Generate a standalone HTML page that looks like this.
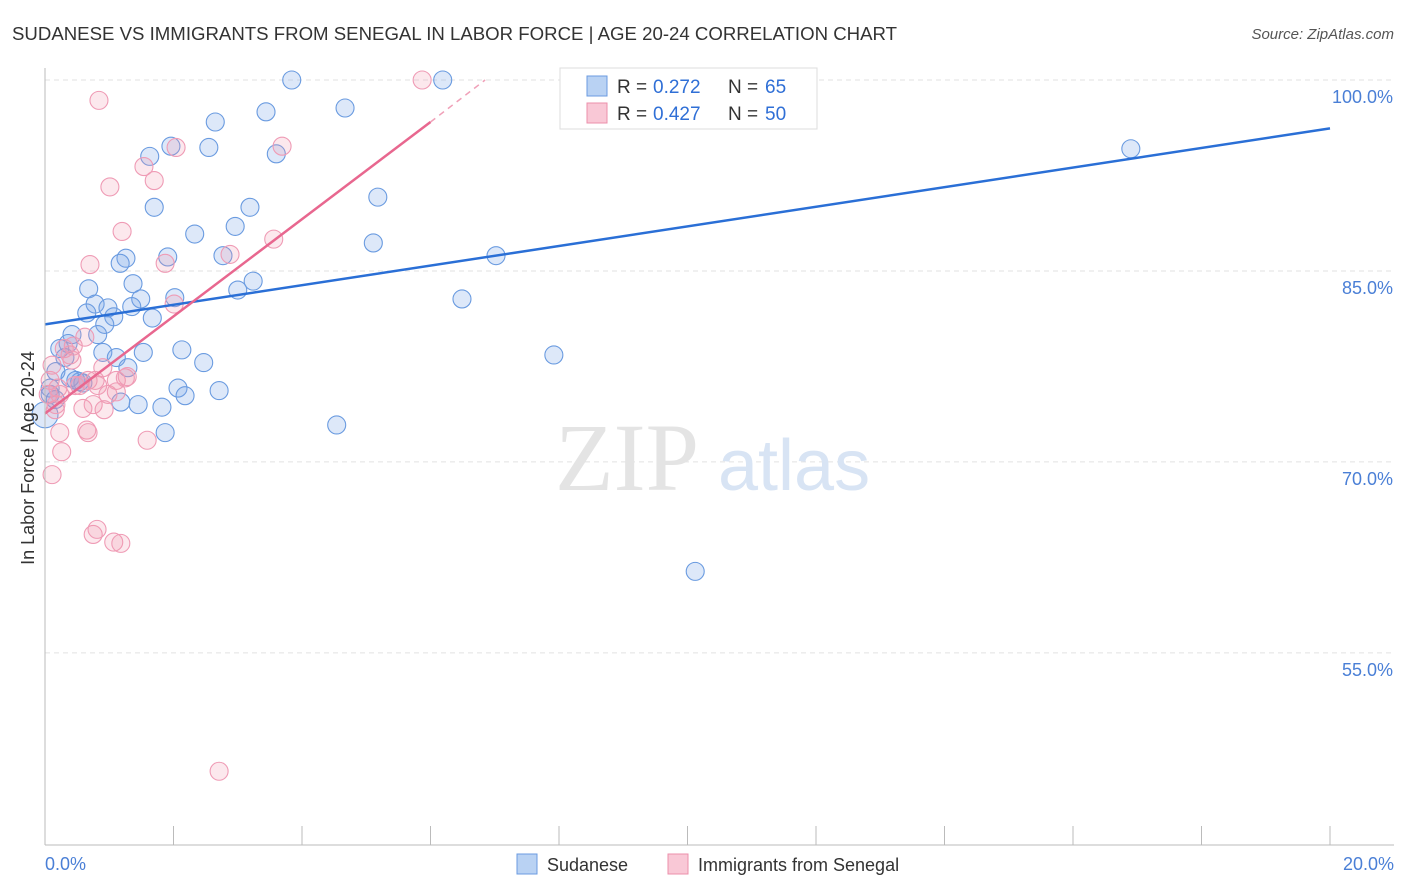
<!DOCTYPE html>
<html><head><meta charset="utf-8"><style>
body{margin:0;background:#fff;font-family:"Liberation Sans",sans-serif;}
svg{display:block}
</style></head><body>
<svg id="chart" width="1406" height="892">
<text x="12" y="40" font-size="18" fill="#333" textLength="885" lengthAdjust="spacingAndGlyphs">SUDANESE VS IMMIGRANTS FROM SENEGAL IN LABOR FORCE | AGE 20-24 CORRELATION CHART</text>
<text x="1394" y="39" font-size="15" fill="#555" font-style="italic" text-anchor="end">Source: ZipAtlas.com</text>
<g id="grid"></g>
<text x="555" y="490" font-size="96" font-family="Liberation Serif,serif" fill="#e4e4e4">ZIP</text>
<text x="718" y="490" font-size="72" fill="#d8e4f4">atlas</text>
<g id="marks"></g>
<line x1="45" y1="68" x2="45" y2="845" stroke="#bbb"/>
<line x1="45" y1="845" x2="1394" y2="845" stroke="#bbb"/>
<text x="34" y="458" font-size="18" fill="#333" text-anchor="middle" transform="rotate(-90 34 458)">In Labor Force | Age 20-24</text>
<text x="45" y="870" font-size="18" fill="#4a7fd6">0.0%</text>
<text x="1394" y="870" font-size="18" fill="#4a7fd6" text-anchor="end">20.0%</text>
<rect x="560" y="68" width="257" height="61" fill="#fff" stroke="#ddd"/>
<rect x="587" y="76" width="20" height="20" fill="#b9d2f3" stroke="#6b9be0"/>
<rect x="587" y="103" width="20" height="20" fill="#f9c8d6" stroke="#ec8fab"/>
<text x="617" y="93" font-size="19" fill="#333">R =</text>
<text x="653" y="93" font-size="19" fill="#2f6fd6">0.272</text>
<text x="728" y="93" font-size="19" fill="#333">N =</text>
<text x="765" y="93" font-size="19" fill="#2f6fd6">65</text>
<text x="617" y="120" font-size="19" fill="#333">R =</text>
<text x="653" y="120" font-size="19" fill="#2f6fd6">0.427</text>
<text x="728" y="120" font-size="19" fill="#333">N =</text>
<text x="765" y="120" font-size="19" fill="#2f6fd6">50</text>
<rect x="517" y="854" width="20" height="20" fill="#b9d2f3" stroke="#6b9be0"/>
<text x="547" y="871" font-size="18" fill="#333">Sudanese</text>
<rect x="668" y="854" width="20" height="20" fill="#f9c8d6" stroke="#ec8fab"/>
<text x="698" y="871" font-size="18" fill="#333">Immigrants from Senegal</text>
</svg>
<script>
const yTicks=[100,85,70,55];
const yTickLabels=["100.0%","85.0%","70.0%","55.0%"];
const xTicks=[0,2,4,6,8,10,12,14,16,18,20];
const sudX=[3.84,6.19,3.44,4.67,2.65,1.96,2.55,1.63,3.60,5.18,1.70,3.19,2.96,2.33,5.11,16.9,7.02,1.91,1.26,2.77,1.17,3.24,1.37,3.00,0.68,1.49,2.02,0.78,1.35,0.98,0.65,1.07,1.67,6.49,0.93,0.42,0.82,0.23,0.36,0.90,1.53,1.11,2.13,7.92,2.47,1.29,0.31,0.17,0.48,0.59,0.08,2.07,2.71,2.18,1.18,1.45,1.82,4.54,1.87,10.12,0.08,0.0,0.16,0.54,0.39];
const sudY=[100,100,97.5,97.8,96.7,94.8,94.7,94.0,94.2,90.8,90.0,90.0,88.5,87.9,87.2,94.6,86.2,86.1,86.0,86.2,85.6,84.2,84.0,83.5,83.6,82.8,82.9,82.4,82.2,82.1,81.7,81.4,81.3,82.8,80.8,80.0,80.0,78.9,79.3,78.6,78.6,78.2,78.8,78.4,77.8,77.4,78.2,77.1,76.4,76.2,75.8,75.8,75.6,75.2,74.7,74.5,74.3,72.9,72.3,61.4,75.3,73.7,74.9,76.3,76.6];
const senX=[5.87,0.84,3.69,2.04,1.54,1.70,1.01,1.20,3.56,2.88,0.70,1.87,2.01,0.62,0.39,0.44,0.11,0.20,0.16,0.05,0.47,0.59,0.75,0.82,0.98,1.11,1.25,0.90,0.92,1.11,1.28,0.23,0.26,0.11,0.65,0.67,1.59,0.75,0.81,1.07,1.18,2.71,0.23,0.54,0.30,0.67,0.78,0.17,0.42,0.08];
const senY=[100,98.4,94.8,94.7,93.2,92.1,91.6,88.1,87.5,86.3,85.5,85.6,82.4,79.8,78.4,79.1,77.6,75.8,74.1,75.3,76.0,74.2,74.5,76.0,75.3,76.4,76.6,77.4,74.1,75.5,76.7,72.3,70.8,69.0,72.5,72.3,71.7,64.3,64.7,63.7,63.6,45.7,75.3,76.0,78.9,76.4,76.4,74.5,78.0,76.4];
const sudTrendX=[0,20];const sudTrendY=[80.8,96.2];
const senTrendX=[0,6.0];const senTrendY=[73.8,96.7];
const senDashX=[6.0,6.85];const senDashY=[96.7,100];

const NS="http://www.w3.org/2000/svg";
const xs=v=>45+v*64.25;
const ys=v=>80+(100-v)*12.73;
const grid=document.getElementById('grid'),marks=document.getElementById('marks');
function mk(tag,attrs,parent){const e=document.createElementNS(NS,tag);for(const k in attrs)e.setAttribute(k,attrs[k]);parent.appendChild(e);return e;}
yTicks.forEach((t,i)=>{
  const l=mk('line',{x1:45,x2:1394,y1:ys(t),y2:ys(t),stroke:'#e2e2e2','stroke-dasharray':'5,4'},grid);
  
  
  const tx=mk('text',{x:1393,y:ys(t)+23,'font-size':18,fill:'#4a7fd6','text-anchor':'end'},grid);
  tx.textContent=yTickLabels[i];
  
  
});
xTicks.forEach(t=>{
  const l=mk('line',{x1:xs(t),x2:xs(t),y1:826,y2:845,stroke:'#bbb'},grid);
  
  
});
sudX.forEach((v,i)=>{
  const c=mk('circle',{cx:xs(v),cy:ys(sudY[i]),r:i==61?13:9,fill:'rgba(120,165,230,0.25)',stroke:'#6a9be0','stroke-width':1.1},marks);
  
  
});
senX.forEach((v,i)=>{
  const c=mk('circle',{cx:xs(v),cy:ys(senY[i]),r:9,fill:'rgba(240,150,175,0.22)',stroke:'#ef9bb5','stroke-width':1.1},marks);
  
  
});
const t1=mk('line',{x1:xs(sudTrendX[0]),y1:ys(sudTrendY[0]),x2:xs(sudTrendX[1]),y2:ys(sudTrendY[1]),stroke:'#2a6fd6','stroke-width':2.5},marks);


const t2=mk('line',{x1:xs(senTrendX[0]),y1:ys(senTrendY[0]),x2:xs(senTrendX[1]),y2:ys(senTrendY[1]),stroke:'#e8678f','stroke-width':2.5},marks);


const t3=mk('line',{x1:xs(senDashX[0]),y1:ys(senDashY[0]),x2:xs(senDashX[1]),y2:ys(senDashY[1]),stroke:'#f0a0b8','stroke-width':1.5,'stroke-dasharray':'6,5'},marks);


</script>
</body></html>
